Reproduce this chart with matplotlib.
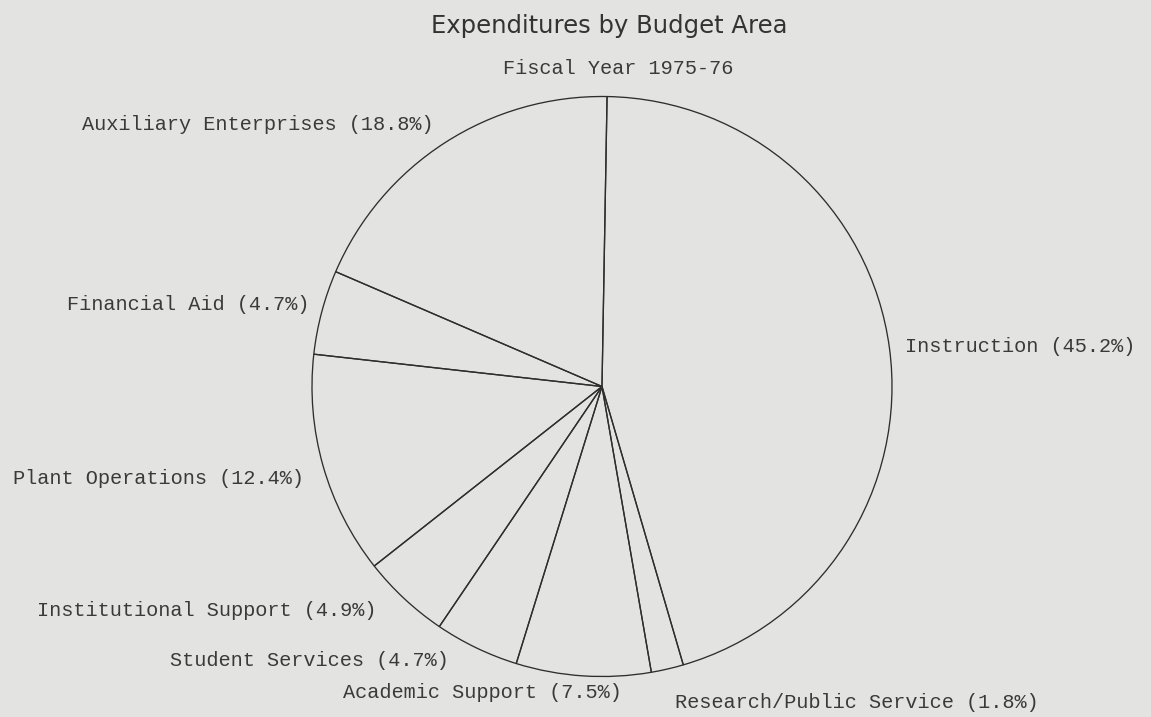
import matplotlib.pyplot as plt

# data
areas = ['Instruction', 'Research/Public Service', 'Academic Support',
         'Student Services', 'Institutional Support', 'Plant Operations',
         'Financial Aid', 'Auxiliary Enterprises']
shares = [45.2, 1.8, 7.5, 4.7, 4.9, 12.4, 4.7, 18.8]

W, H = 1151, 717
bg = '#e3e3e1'
ink = '#2e2e2e'

fig = plt.figure(figsize=(W / 100, H / 100), dpi=100, facecolor=bg)
ax = fig.add_axes([0, 0, 1, 1])
ax.set_facecolor(bg)

# pie, clockwise from the top (pixel units, y flipped); scan is tilted ~1 deg
ax.pie(shares, startangle=89.0, counterclock=False, center=(602, H - 386.5),
       radius=290, frame=True,
       wedgeprops=dict(facecolor='none', edgecolor=ink, linewidth=0.95))

ax.set_xlim(0, W)
ax.set_ylim(0, H)
ax.set_aspect('auto')
ax.axis('off')

# label positions (left edge x, center y) in pixels
label_pos = {
    'Instruction': (905, 347),
    'Research/Public Service': (675, 702),
    'Academic Support': (343, 693),
    'Student Services': (170, 660),
    'Institutional Support': (37, 610),
    'Plant Operations': (13, 478),
    'Financial Aid': (67, 305),
    'Auxiliary Enterprises': (82, 124),
}
mono = 'Liberation Mono'
for name, val in zip(areas, shares):
    x, y = label_pos[name]
    ax.text(x, H - y, f'{name} ({val}%)', ha='left', va='center',
            family=mono, fontsize=14.6, color='#3a3a3a')

ax.text(609, H - 26, 'Expenditures by Budget Area', ha='center', va='center',
        family='DejaVu Sans', fontsize=17.5, color='#333333')
ax.text(618, H - 68, 'Fiscal Year 1975-76', ha='center', va='center',
        family=mono, fontsize=14.6, color='#3a3a3a')

plt.savefig('out.png', dpi=100, facecolor=bg)
